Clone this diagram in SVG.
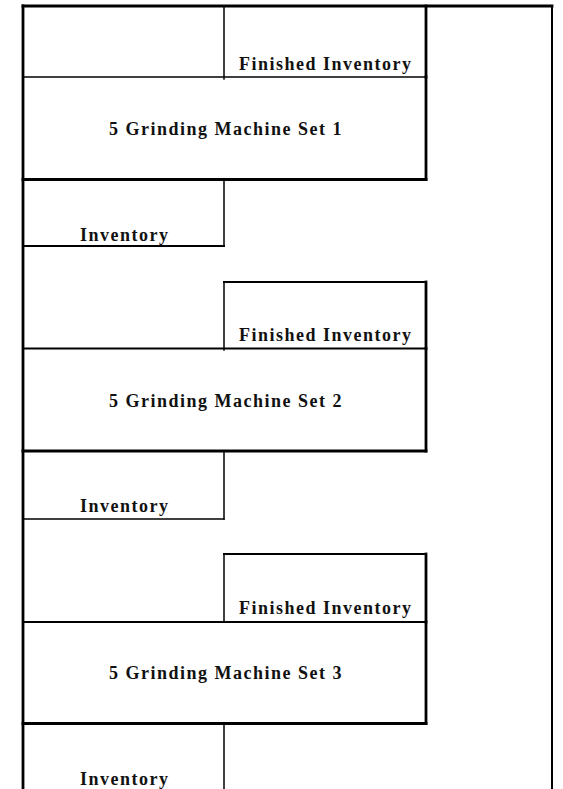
<svg xmlns="http://www.w3.org/2000/svg" width="563" height="789" viewBox="0 0 563 789">
<style>
.ln{stroke:#000;fill:none;stroke-linecap:square}
.thin{stroke-width:1.5}
.mid{stroke-width:2}
.thick{stroke-width:2.8}
.lbl{font-family:"Liberation Serif","Times New Roman",serif;font-weight:bold;font-size:18px;letter-spacing:1.5px;fill:#111}
</style>
<rect width="563" height="789" fill="#fff"/>
<g id="frame">
<line class="ln thick" x1="23" y1="6" x2="23" y2="789"/>
<line class="ln thick" x1="23" y1="6" x2="552" y2="6"/>
<line class="ln mid" x1="552" y1="6" x2="552" y2="789"/>
</g>
<g id="finished-inventory-1">
<line class="ln thin" x1="224" y1="6" x2="224" y2="79"/>
<line class="ln thick" x1="426" y1="6" x2="426" y2="77"/>
<text class="lbl" x="239" y="69.5">Finished Inventory</text>
</g>
<g id="machine-set-1">
<line class="ln thin" x1="23" y1="77" x2="426" y2="77"/>
<line class="ln thick" x1="426" y1="77" x2="426" y2="179.5"/>
<line class="ln thick" x1="23" y1="179.5" x2="426" y2="179.5"/>
<text class="lbl" x="109" y="134.5">5 Grinding Machine Set 1</text>
</g>
<g id="inventory-1">
<line class="ln thin" x1="224" y1="179.5" x2="224" y2="246"/>
<line class="ln mid" x1="23" y1="246" x2="224" y2="246"/>
<text class="lbl" x="80" y="240.5">Inventory</text>
</g>
<g id="finished-inventory-2">
<line class="ln mid" x1="224" y1="282" x2="426" y2="282"/>
<line class="ln thin" x1="224" y1="282" x2="224" y2="350"/>
<line class="ln thick" x1="426" y1="282" x2="426" y2="348.5"/>
<text class="lbl" x="239" y="340.5">Finished Inventory</text>
</g>
<g id="machine-set-2">
<line class="ln mid" x1="23" y1="348.5" x2="426" y2="348.5"/>
<line class="ln thick" x1="426" y1="348.5" x2="426" y2="451"/>
<line class="ln thick" x1="23" y1="451" x2="426" y2="451"/>
<text class="lbl" x="109" y="406.5">5 Grinding Machine Set 2</text>
</g>
<g id="inventory-2">
<line class="ln thin" x1="224" y1="451" x2="224" y2="519"/>
<line class="ln thin" x1="23" y1="519" x2="224" y2="519"/>
<text class="lbl" x="80" y="511.5">Inventory</text>
</g>
<g id="finished-inventory-3">
<line class="ln mid" x1="224" y1="554" x2="426" y2="554"/>
<line class="ln thin" x1="224" y1="554" x2="224" y2="622"/>
<line class="ln thick" x1="426" y1="554" x2="426" y2="622"/>
<text class="lbl" x="239" y="613.5">Finished Inventory</text>
</g>
<g id="machine-set-3">
<line class="ln mid" x1="23" y1="622" x2="426" y2="622"/>
<line class="ln thick" x1="426" y1="622" x2="426" y2="723.5"/>
<line class="ln thick" x1="23" y1="723.5" x2="426" y2="723.5"/>
<text class="lbl" x="109" y="678.5">5 Grinding Machine Set 3</text>
</g>
<g id="inventory-3">
<line class="ln thin" x1="224" y1="723.5" x2="224" y2="789"/>
<text class="lbl" x="80" y="784.5">Inventory</text>
</g>
<g id="connectors"/>
</svg>
